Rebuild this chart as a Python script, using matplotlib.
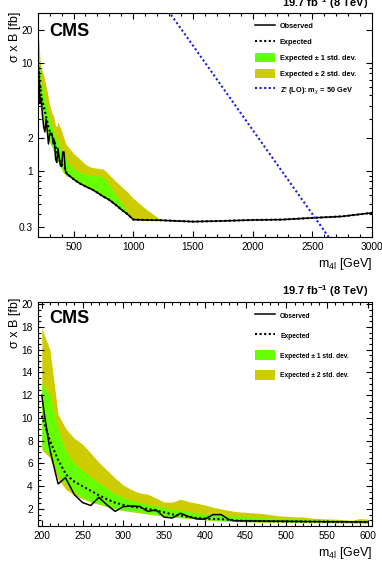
import matplotlib
matplotlib.use('Agg')
import matplotlib.pyplot as plt
from matplotlib.patches import Patch
from matplotlib.lines import Line2D
from matplotlib.ticker import FixedLocator, FixedFormatter, MultipleLocator, NullFormatter, LogLocator

plt.rcParams['font.family'] = ['Liberation Sans', 'DejaVu Sans']
plt.rcParams['mathtext.fontset'] = 'custom'
plt.rcParams['mathtext.rm'] = 'Liberation Sans'
plt.rcParams['mathtext.it'] = 'Liberation Sans:italic'
plt.rcParams['mathtext.bf'] = 'Liberation Sans:bold'

# ---------------- data: low-mass region (200-600 GeV) ----------------
mass_lo = list(range(200, 610, 10))
exp_lo = [10.2, 8.0, 6.3, 5.0, 4.4, 4.0, 3.6, 3.2, 2.85, 2.55,
          2.35, 2.2, 2.12, 2.0, 1.85, 1.7, 1.52, 1.4, 1.3, 1.2,
          1.15, 1.12, 1.1, 1.05, 0.97, 0.95, 0.94, 0.93, 0.92, 0.91,
          0.9, 0.9, 0.89, 0.88, 0.88, 0.87, 0.86, 0.86, 0.85, 0.85, 0.84]
p1_lo = [13.1, 12.0, 9.0, 7.0, 6.0, 5.4, 4.8, 4.3, 3.8, 3.3,
         3.0, 2.75, 2.55, 2.4, 2.25, 2.1, 2.0, 1.9, 1.75, 1.65,
         1.55, 1.5, 1.45, 1.4, 1.35, 1.32, 1.28, 1.25, 1.2, 1.16,
         1.12, 1.1, 1.08, 1.05, 1.03, 1.02, 1.0, 0.98, 0.96, 0.97, 0.95]
m1_lo = [7.4, 6.8, 5.0, 4.2, 3.5, 3.0, 2.7, 2.45, 2.25, 2.05,
         1.9, 1.8, 1.7, 1.6, 1.5, 1.4, 1.3, 1.25, 1.2, 1.12,
         1.06, 1.0, 0.97, 0.95, 0.9, 0.88, 0.87, 0.86, 0.85, 0.84,
         0.83, 0.83, 0.82, 0.82, 0.81, 0.81, 0.8, 0.8, 0.79, 0.79, 0.78]
p2_lo = [17.9, 16.0, 10.3, 9.0, 8.2, 7.7, 6.9, 6.1, 5.4, 4.7,
         4.1, 3.7, 3.4, 3.3, 2.95, 2.6, 2.6, 2.85, 2.65, 2.5,
         2.35, 2.15, 2.0, 1.85, 1.75, 1.7, 1.65, 1.6, 1.5, 1.4,
         1.35, 1.3, 1.3, 1.2, 1.15, 1.12, 1.1, 1.05, 1.0, 1.15, 1.1]
m2_lo = [7.2, 6.5, 4.6, 3.7, 3.2, 2.9, 2.6, 2.4, 2.2, 2.0,
         1.85, 1.75, 1.65, 1.55, 1.45, 1.35, 1.27, 1.22, 1.17, 1.1,
         1.04, 0.98, 0.95, 0.93, 0.88, 0.86, 0.85, 0.84, 0.83, 0.82,
         0.81, 0.81, 0.8, 0.8, 0.79, 0.79, 0.78, 0.78, 0.77, 0.77, 0.76]

mass_obs = [200, 203, 210, 220, 229, 240, 250, 260, 270, 280,
            290, 300, 310, 320, 330, 340, 350, 360, 370, 380,
            390, 400, 410, 420, 430, 436, 450, 500, 550, 600]
obs = [12.0, 10.4, 7.2, 4.2, 4.75, 3.25, 2.56, 2.3, 3.02, 2.35,
       1.78, 2.2, 2.25, 2.22, 1.78, 1.92, 1.28, 1.2, 1.62, 1.33,
       1.12, 1.1, 1.5, 1.5, 1.05, 0.96, 0.95, 0.91, 0.87, 0.85]

# ---------------- data: high-mass continuation (top panel) ----------------
mass_hi = [450, 500, 550, 600, 650, 700, 750, 800, 850, 900, 950, 1000,
           1100, 1230, 1500, 1750, 2000, 2250, 2500, 2750, 3000]
exp_hi = [0.93, 0.84, 0.77, 0.72, 0.68, 0.63, 0.58, 0.54, 0.49, 0.44, 0.40, 0.355,
          0.352, 0.35, 0.34, 0.345, 0.352, 0.355, 0.368, 0.38, 0.41]
p1_hi = [1.2, 1.05, 0.98, 0.93, 0.91, 0.9, 0.885, 0.735, 0.61, 0.51, 0.42, 0.355,
         0.352, 0.35, 0.34, 0.345, 0.352, 0.355, 0.368, 0.38, 0.41]
p2_hi = [1.7, 1.45, 1.3, 1.15, 1.08, 1.06, 1.04, 0.92, 0.81, 0.72, 0.64, 0.56,
         0.45, 0.355, 0.34, 0.345, 0.352, 0.355, 0.368, 0.38, 0.41]

mass_zp = [1250, 1500, 1750, 2000, 2250, 2500, 2750]
xsec_zp = [35.4, 14.5, 5.9, 2.4, 0.98, 0.40, 0.163]

# combined top-panel series
n_lo = 25  # up to 440 GeV
n_obs = 26  # up to 436 GeV
mass_top = mass_lo[:n_lo] + mass_hi
exp_top = exp_lo[:n_lo] + exp_hi
p1_top = p1_lo[:n_lo] + p1_hi
m1_top = m1_lo[:n_lo] + exp_hi
p2_top = p2_lo[:n_lo] + p2_hi
m2_top = m2_lo[:n_lo] + exp_hi
mass_obs_top = mass_obs[:n_obs] + mass_hi
obs_top = obs[:n_obs] + exp_hi

GREEN = '#66FF00'
YELLOW = '#CCCC00'
DOT = (0, (1, 1.2))

fig = plt.figure(figsize=(3.82, 5.62), dpi=100)
ax1 = fig.add_axes([0.0987, 0.5783, 0.8752, 0.3986])
ax2 = fig.add_axes([0.0987, 0.0641, 0.8752, 0.3986])


def style(ax):
    ax.tick_params(which='both', direction='in', top=True, right=True,
                   labelsize=7.3, width=0.8)
    ax.tick_params(which='major', length=4.5, pad=3.5)
    ax.tick_params(which='minor', length=2.3)
    for s in ax.spines.values():
        s.set_linewidth(0.8)


def draw(ax, m, m2, p2, m1, p1, mo, o, e):
    ax.fill_between(m, m2, p2, color=YELLOW, lw=0)
    ax.fill_between(m, m1, p1, color=GREEN, lw=0)
    ax.plot(mo, o, color='black', lw=1.1)
    ax.plot(m, e, color='black', lw=1.5, ls=DOT)


# ---------- top panel ----------
draw(ax1, mass_top, m2_top, p2_top, m1_top, p1_top, mass_obs_top, obs_top, exp_top)
ax1.plot(mass_zp, xsec_zp, color='#1a1ae6', lw=1.5, ls=DOT)
ax1.set_yscale('log')
ax1.set_xlim(200, 3000)
ax1.set_ylim(0.245, 29)
ax1.yaxis.set_major_locator(FixedLocator([0.3, 1, 2, 10, 20, 30]))
ax1.yaxis.set_major_formatter(FixedFormatter(['0.3', '1', '2', '10', '20', '30']))
ax1.yaxis.set_minor_locator(LogLocator(subs=[2, 3, 4, 5, 6, 7, 8, 9], numticks=20))
ax1.yaxis.set_minor_formatter(NullFormatter())
ax1.xaxis.set_major_locator(MultipleLocator(500))
ax1.xaxis.set_minor_locator(MultipleLocator(100))
style(ax1)

h1 = [Line2D([], [], color='black', lw=1.1),
      Line2D([], [], color='black', lw=1.5, ls=DOT),
      Patch(facecolor=GREEN, lw=0),
      Patch(facecolor=YELLOW, lw=0),
      Line2D([], [], color='#1a1ae6', lw=1.5, ls=DOT)]
l1 = ['Observed', 'Expected', 'Expected ± 1 std. dev.', 'Expected ± 2 std. dev.',
      r"Z' (LO): m$_{\chi}$ = 50 GeV"]
ax1.legend(h1, l1, loc='upper left', bbox_to_anchor=(0.650, 0.962), frameon=False,
           prop={'size': 5.3, 'weight': 'bold'}, handlelength=2.7, handleheight=1.4,
           labelspacing=0.97, handletextpad=0.68, borderpad=0, borderaxespad=0)

# ---------- bottom panel ----------
draw(ax2, mass_lo, m2_lo, p2_lo, m1_lo, p1_lo, mass_obs, obs, exp_lo)
ax2.set_xlim(195, 605)
ax2.set_ylim(0.5, 20.2)
ax2.yaxis.set_major_locator(MultipleLocator(2))
ax2.yaxis.set_minor_locator(MultipleLocator(0.5))
ax2.xaxis.set_major_locator(MultipleLocator(50))
ax2.xaxis.set_minor_locator(MultipleLocator(10))
style(ax2)

h2 = h1[:4]
l2 = l1[:4]
ax2.legend(h2, l2, loc='upper left', bbox_to_anchor=(0.650, 0.962), frameon=False,
           prop={'size': 4.8, 'weight': 'bold'}, handlelength=3.0, handleheight=1.95,
           labelspacing=1.48, handletextpad=0.75, borderpad=0, borderaxespad=0)

# ---------- texts ----------
for ax, lumi_y, cms_y, ylab_y in [(ax1, 1.025, 0.899, 1.004), (ax2, 1.031, 0.905, 1.018)]:
    ax.text(0.987, lumi_y, r'19.7 fb$^{\mathbf{-1}}$ (8 TeV)', transform=ax.transAxes,
            ha='right', va='baseline', fontsize=8, fontweight='bold')
    ax.text(0.034, cms_y, 'CMS', transform=ax.transAxes, ha='left', va='baseline',
            fontsize=13, fontweight='bold')
    ax.text(1.0, -0.134, r'm$_{\mathrm{4l}}$ [GeV]', transform=ax.transAxes,
            ha='right', va='baseline', fontsize=9)
    ax.text(-0.068, ylab_y, 'σ x B [fb]', transform=ax.transAxes, rotation=90,
            ha='center', va='top', fontsize=9)

fig.savefig('out.png', dpi=100)
